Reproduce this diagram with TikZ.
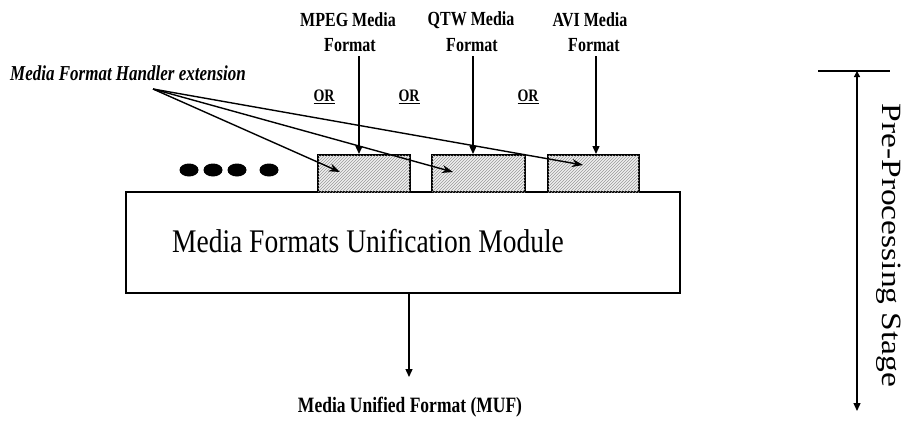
\documentclass[tikz,border=0pt]{standalone}
\usepackage{fontspec}
\setmainfont{Liberation Serif}
\usetikzlibrary{arrows.meta,shapes.geometric,patterns}
\newcommand{\tallbox}[1]{\scalebox{1}[1.25]{#1}}
\begin{document}
\begin{tikzpicture}[x=1pt,y=-1pt,
  arr/.style={line width=1.4pt,-{Triangle[length=8pt,width=7pt]}},
  ptr/.style={line width=1.4pt,-{Stealth[length=11pt,width=8pt]}},
  handler/.style={draw,line width=2pt,minimum height=37pt,inner sep=0pt,
     fill=gray!12,postaction={pattern=north east lines,pattern color=gray!80}},
  dot/.style={ellipse,fill=black,minimum width=19pt,minimum height=13pt,inner sep=0pt},
  toplbl/.style={font=\fontsize{16}{24}\selectfont\bfseries,align=center,inner sep=0pt},
  orlbl/.style={font=\fontsize{14}{16}\selectfont\bfseries,inner sep=0pt}]
\useasboundingbox (0,0) rectangle (910,423);

% main module
\node[draw,line width=2pt,minimum width=554pt,minimum height=101pt,inner sep=0pt] (mod) at (403,242.5) {};
\node[anchor=base,inner sep=0pt,font=\fontsize{27.5}{30}\selectfont] (modtxt) at (368,252) {\scalebox{1}[1.2]{Media Formats Unification Module}};

% handler boxes
\node[handler,minimum width=92pt] (h1) at (364,173.5) {};
\node[handler,minimum width=93pt] (h2) at (478.5,173.5) {};
\node[handler,minimum width=91pt] (h3) at (593.5,173.5) {};

% dots
\node[dot] (d1) at (189,170) {};
\node[dot] (d2) at (213,170) {};
\node[dot] (d3) at (237,170) {};
\node[dot] (d4) at (269,170) {};

% top labels
\node[toplbl] (mpeg1) at (348,20) {\tallbox{MPEG Media}};
\node[toplbl] (mpeg2) at (350,45) {\tallbox{Format}};
\node[toplbl] (qtw1) at (471,20) {\tallbox{QTW Media}};
\node[toplbl] (qtw2) at (472,45) {\tallbox{Format}};
\node[toplbl] (avi1) at (590,20) {\tallbox{AVI Media}};
\node[toplbl] (avi2) at (594,45) {\tallbox{Format}};

\coordinate (a1) at (359,56);
\coordinate (a2) at (473,56);
\coordinate (a3) at (596,56);
\draw[arr] (a1) -- (a1 |- h1.north);
\draw[arr] (a2) -- (a2 |- h2.north);
\draw[arr] (a3) -- (a3 |- h3.north);

% OR labels
\node[orlbl] (or1) at (324,97) {\tallbox{\underline{OR}}};
\node[orlbl] (or2) at (409,97) {\tallbox{\underline{OR}}};
\node[orlbl] (or3) at (528,97) {\tallbox{\underline{OR}}};

% handler extension label
\node[anchor=west,inner sep=0pt,font=\fontsize{17}{20}\selectfont\bfseries\itshape] (ext) at (10,73) {\tallbox{Media Format Handler extension}};
\coordinate (apex) at (153,89);
\coordinate (t1) at (340,172);
\coordinate (t2) at (453,172);
\coordinate (t3) at (583,165);
\draw[ptr] (apex) -- (t1);
\draw[ptr] (apex) -- (t2);
\draw[ptr] (apex) -- (t3);

% output
\coordinate (muftip) at (409,377);
\draw[arr] (mod.south -| muftip) -- (muftip);
\node[inner sep=0pt,font=\fontsize{17.5}{20}\selectfont\bfseries] (muf) at (410,407) {\tallbox{Media Unified Format (MUF)}};

% pre-processing stage
\coordinate (bl) at (818,71);
\coordinate (br) at (890,71);
\coordinate (stop) at (857,71);
\coordinate (sbot) at (857,411);
\draw[line width=1.8pt] (bl) -- (br);
\draw[line width=1.3pt,{Triangle[length=6pt,width=6pt]}-{Triangle[length=8pt,width=7pt]}] (stop) -- (sbot);
\node[rotate=-90,inner sep=0pt,font=\fontsize{31}{34}\selectfont] (stage) at (889,245.5) {\scalebox{1.08}[0.9]{Pre-Processing Stage}};
\end{tikzpicture}
\end{document}
